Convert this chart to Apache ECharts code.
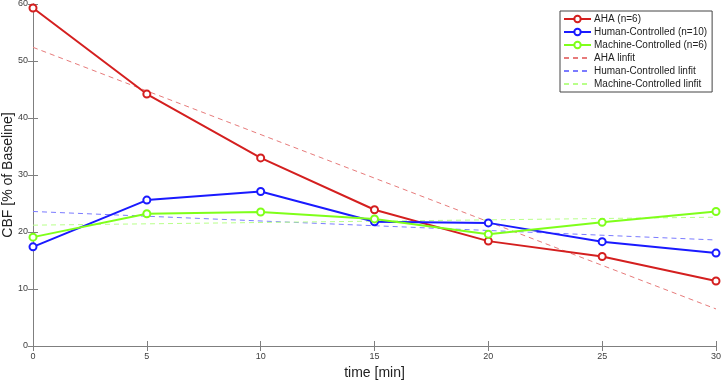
<!DOCTYPE html>
<html>
<head>
<meta charset="utf-8">
<script src="https://cdn.jsdelivr.net/npm/echarts@6/dist/echarts.min.js"></script>
<style>
html, body { margin: 0; padding: 0; background: #fff; }
#container { width: 723px; height: 382px; }
</style>
</head>
<body>
<div id="container"></div>
<script>
// time points [min]
let timePoints = [0, 5, 10, 15, 20, 25, 30];

// CBF values [% of baseline]
let ahaValues = [59.3, 44.2, 33.0, 23.9, 18.4, 15.7, 11.4];
let humanValues = [17.4, 25.6, 27.1, 21.8, 21.6, 18.3, 16.3];
let machineValues = [19.1, 23.2, 23.5, 22.3, 19.6, 21.7, 23.6];

// linear fit end points (t=0, t=30)
let fitTimes = [0, 30];
let ahaFit = [52.4, 6.5];
let humanFit = [23.6, 18.6];
let machineFit = [21.2, 22.6];

let seriesNames = ['AHA (n=6)', 'Human-Controlled (n=10)', 'Machine-Controlled (n=6)',
    'AHA linfit', 'Human-Controlled linfit', 'Machine-Controlled linfit'];

function pairs(xs, ys) {
    return xs.map(function (x, i) { return [x, ys[i]]; });
}

let dom = document.getElementById('container');
let myChart = echarts.init(dom, null, { renderer: 'canvas' });

let axisGray = '#7f7f7f';
let labelColor = '#404040';

function dataSeries(name, values, color) {
    return {
        name: name,
        type: 'line',
        data: pairs(timePoints, values),
        symbol: 'emptyCircle',
        symbolSize: 7,
        showAllSymbol: true,
        lineStyle: { color: color, width: 2 },
        itemStyle: { color: color, borderColor: color, borderWidth: 1.5 },
        emphasis: { disabled: true },
        z: 3
    };
}

function fitSeries(name, values, color) {
    return {
        name: name,
        type: 'line',
        data: pairs(fitTimes, values),
        symbol: 'none',
        lineStyle: { color: color, width: 1, type: [5, 4] },
        // 透明的点, 图例里只留虚线
        itemStyle: { color: color, opacity: 0 },
        emphasis: { disabled: true },
        z: 2
    };
}

let option = {
    animation: false,
    backgroundColor: '#fff',
    grid: { left: 33, right: 7, top: 4, bottom: 36, outerBoundsMode: 'none', containLabel: false },
    legend: {
        data: seriesNames,
        orient: 'vertical',
        left: 560,
        top: 11,
        width: 149,
        padding: [3, 5, 3, 3],
        itemGap: 3,
        itemWidth: 27,
        itemHeight: 8,
        backgroundColor: '#fff',
        borderColor: '#444',
        borderWidth: 1,
        borderRadius: 0,
        textStyle: { fontSize: 10, color: '#222', fontFamily: 'Liberation Sans, Arial', padding: [0, 0, 0, -2] }
    },
    xAxis: [{
        type: 'value',
        min: 0,
        max: 30,
        interval: 5,
        name: 'time [min]',
        nameLocation: 'middle',
        nameGap: 20,
        nameMoveOverlap: false,
        nameTextStyle: { fontSize: 14, color: '#222', fontFamily: 'Liberation Sans, Arial' },
        axisLine: { show: true, lineStyle: { color: axisGray, width: 1 } },
        axisTick: { show: true, inside: true, length: 5, lineStyle: { color: axisGray } },
        axisLabel: { fontSize: 9, color: labelColor, margin: 6, fontFamily: 'Liberation Sans, Arial' },
        splitLine: { show: false }
    }, {
        type: 'value',
        position: 'top',
        min: 0,
        max: 30,
        interval: 5,
        axisLine: { show: true, lineStyle: { color: axisGray, width: 1 } },
        axisTick: { show: true, inside: true, length: 5, lineStyle: { color: axisGray } },
        axisLabel: { show: false },
        splitLine: { show: false }
    }],
    yAxis: [{
        type: 'value',
        min: 0,
        max: 60,
        interval: 10,
        name: 'CBF [% of Baseline]',
        nameLocation: 'middle',
        nameGap: 18,
        nameMoveOverlap: false,
        nameTextStyle: { fontSize: 14, color: '#222', fontFamily: 'Liberation Sans, Arial' },
        axisLine: { show: true, lineStyle: { color: axisGray, width: 1 } },
        axisTick: { show: true, inside: true, length: 5, lineStyle: { color: axisGray } },
        axisLabel: { fontSize: 9, color: labelColor, margin: 5, fontFamily: 'Liberation Sans, Arial' },
        splitLine: { show: false }
    }, {
        type: 'value',
        position: 'right',
        min: 0,
        max: 60,
        interval: 10,
        axisLine: { show: true, lineStyle: { color: axisGray, width: 1 } },
        axisTick: { show: true, inside: true, length: 5, lineStyle: { color: axisGray } },
        axisLabel: { show: false },
        splitLine: { show: false }
    }],
    series: [
        dataSeries(seriesNames[0], ahaValues, '#d41f1f'),
        dataSeries(seriesNames[1], humanValues, '#1a1aff'),
        dataSeries(seriesNames[2], machineValues, '#7fff1a'),
        fitSeries(seriesNames[3], ahaFit, '#e77b7b'),
        fitSeries(seriesNames[4], humanFit, '#7b7bff'),
        fitSeries(seriesNames[5], machineFit, '#b8ff8a')
    ]
};

myChart.setOption(option, true);
</script>
</body>
</html>
